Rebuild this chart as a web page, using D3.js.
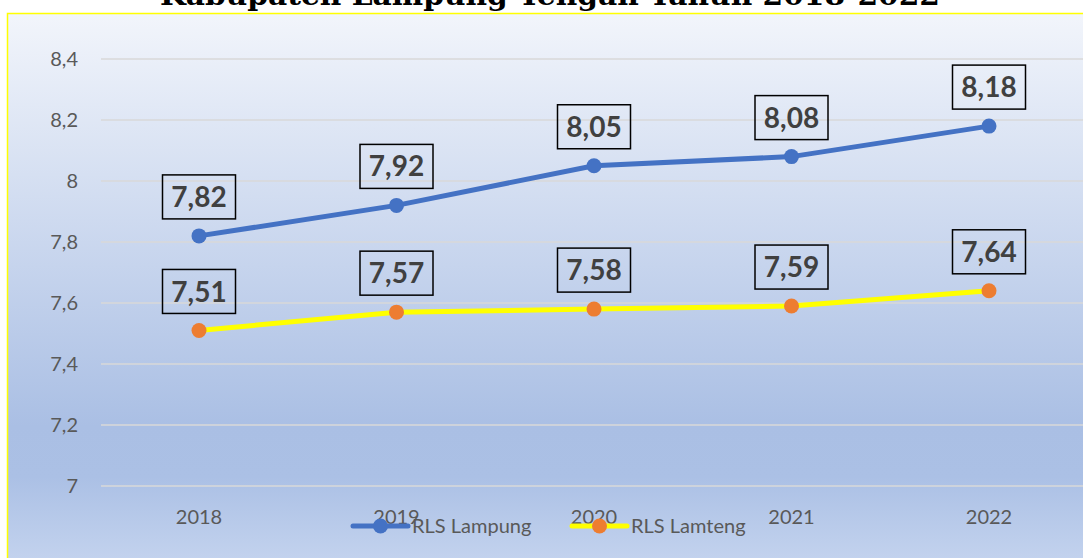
<!DOCTYPE html>
<html>
<head>
<meta charset="utf-8">
<script src="https://cdn.jsdelivr.net/npm/d3@7"></script>
<style>
  body { margin: 0; background: #fff; }
  svg { display: block; }
</style>
</head>
<body>
<div class="chart"></div>
<script>
// data
var years = ['2018', '2019', '2020', '2021', '2022'];
var rlsLampung = [7.82, 7.92, 8.05, 8.08, 8.18];
var rlsLamteng = [7.51, 7.57, 7.58, 7.59, 7.64];
var yTicks = [7, 7.2, 7.4, 7.6, 7.8, 8, 8.2, 8.4];
var seriesNames = ['RLS Lampung', 'RLS Lamteng'];

var w = 1083, h = 558;
var font = 'Lato, "Open Sans", sans-serif';
var svg = d3.select('.chart').append('svg')
	.attr('width', w)
	.attr('height', h);

/*--------------------------- BACKGROUND --------------------------*/
var defs = svg.append('defs');
var grad = defs.append('linearGradient')
	.attr('id', 'bg')
	.attr('x1', 0).attr('y1', 0).attr('x2', 0).attr('y2', 1);
grad.append('stop').attr('offset', '0%').attr('stop-color', '#f2f5fb');
grad.append('stop').attr('offset', '74%').attr('stop-color', '#aabfe4');
grad.append('stop').attr('offset', '83%').attr('stop-color', '#abc0e5');
grad.append('stop').attr('offset', '100%').attr('stop-color', '#c6d5ef');

svg.append('rect')
	.attr('x', 7.5).attr('y', 13.5)
	.attr('width', w + 20).attr('height', h)
	.attr('fill', 'url(#bg)')
	.attr('stroke', '#ffff00')
	.attr('stroke-width', 1.5);

// title (cut off at top like the original)
svg.append('text')
	.attr('x', 550).attr('y', 5)
	.attr('text-anchor', 'middle')
	.attr('textLength', 780)
	.attr('lengthAdjust', 'spacingAndGlyphs')
	.style('font-family', '"DejaVu Serif", serif')
	.style('font-weight', 'bold')
	.style('font-size', '27px')
	.attr('fill', '#000')
	.text('Kabupaten Lampung Tengah Tahun 2018-2022');

/*--------------------------- SCALES --------------------------*/
var x = d3.scalePoint()
	.domain(years)
	.range([199, 989]);

var y = d3.scaleLinear()
	.domain([7, 8.4])
	.range([486, 59]);

// gridlines
svg.append('g')
	.selectAll('line')
	.data(yTicks)
	.enter()
	.append('line')
	.attr('x1', 101).attr('x2', w)
	.attr('y1', function(d){ return y(d); })
	.attr('y2', function(d){ return y(d); })
	.attr('stroke', '#d9d9d9')
	.attr('stroke-width', 1.5);

var fmt = function(d){ return String(d).replace('.', ','); };

// y axis labels
svg.append('g')
	.selectAll('text')
	.data(yTicks)
	.enter()
	.append('text')
	.attr('x', 78)
	.attr('y', function(d){ return y(d); })
	.attr('dy', '0.35em')
	.attr('text-anchor', 'end')
	.style('font-family', font)
	.style('font-size', '20px')
	.attr('fill', '#595959')
	.text(fmt);

// x axis labels
svg.append('g')
	.selectAll('text')
	.data(years)
	.enter()
	.append('text')
	.attr('x', function(d){ return x(d); })
	.attr('y', 517)
	.attr('dy', '0.35em')
	.attr('text-anchor', 'middle')
	.style('font-family', font)
	.style('font-size', '20px')
	.attr('fill', '#595959')
	.text(function(d){ return d; });

/*--------------------------- SERIES --------------------------*/
var series = [
	{name: seriesNames[0], values: rlsLampung, line: '#4472c4', dot: '#4472c4'},
	{name: seriesNames[1], values: rlsLamteng, line: '#ffff00', dot: '#ed7d31'}
];

var lineGen = d3.line()
	.x(function(d, i){ return x(years[i]); })
	.y(function(d){ return y(d); });

series.forEach(function(s){
	svg.append('path')
		.datum(s.values)
		.attr('d', lineGen)
		.attr('fill', 'none')
		.attr('stroke', s.line)
		.attr('stroke-width', 5)
		.attr('stroke-linejoin', 'round')
		.attr('stroke-linecap', 'round');

	svg.append('g')
		.selectAll('circle')
		.data(s.values)
		.enter()
		.append('circle')
		.attr('cx', function(d, i){ return x(years[i]); })
		.attr('cy', function(d){ return y(d); })
		.attr('r', 7.5)
		.attr('fill', s.dot);

	// value labels in boxes
	var lbl = svg.append('g')
		.selectAll('g')
		.data(s.values)
		.enter()
		.append('g')
		.attr('transform', function(d, i){
			return 'translate(' + x(years[i]) + ',' + (y(d) - 39) + ')';
		});
	lbl.append('rect')
		.attr('x', -36.5).attr('y', -22)
		.attr('width', 73).attr('height', 44)
		.attr('fill', 'none')
		.attr('stroke', '#000')
		.attr('stroke-width', 1.5);
	lbl.append('text')
		.attr('x', 0).attr('y', 0)
		.attr('dy', '0.36em')
		.attr('text-anchor', 'middle')
		.style('font-family', font)
		.style('font-weight', 'bold')
		.style('font-size', '28px')
		.attr('fill', '#404040')
		.text(function(d){ return fmt(d.toFixed(2)); });
});

/*--------------------------- LEGEND --------------------------*/
var legendX = [353, 572];
var legend = svg.append('g')
	.selectAll('g')
	.data(series)
	.enter()
	.append('g')
	.attr('transform', function(d, i){ return 'translate(' + legendX[i] + ',526)'; });

legend.append('line')
	.attr('x1', 0).attr('x2', 55)
	.attr('stroke', function(d){ return d.line; })
	.attr('stroke-width', 5)
	.attr('stroke-linecap', 'round');
legend.append('circle')
	.attr('cx', 27.5)
	.attr('r', 7.5)
	.attr('fill', function(d){ return d.dot; });
legend.append('text')
	.attr('x', 59)
	.attr('dy', '0.35em')
	.style('font-family', font)
	.style('font-size', '20px')
	.attr('fill', '#595959')
	.text(function(d){ return d.name; });
</script>
</body>
</html>
